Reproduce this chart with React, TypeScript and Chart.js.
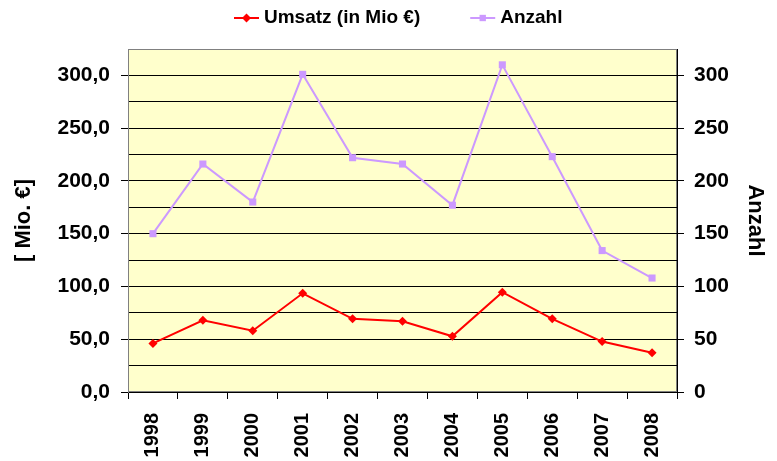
import React, { useEffect, useRef } from 'react';
import { Chart, registerables } from 'chart.js';

Chart.register(...registerables);

const categories = ['1998', '1999', '2000', '2001', '2002', '2003', '2004', '2005', '2006', '2007', '2008'];
const umsatz = [46, 68, 58, 93.5, 69.3, 67.1, 52.8, 94.6, 69.3, 47.8, 37.1];
const anzahl = [150, 216, 180, 301, 222, 216, 177, 310, 223, 134, 108];
const labelledTicks = [0, 50, 100, 150, 200, 250, 300];
const axisMax = 325;
const gridStep = 25;

const seriesNames = ['Umsatz (in Mio €)', 'Anzahl'];
const leftTitle = '[ Mio. €]';
const rightTitle = 'Anzahl';

const FONT = '"Liberation Sans", Arial, Helvetica, sans-serif';
const RED = '#FF0000';
const LAVENDER = '#CC99FF';

const plotBg = {
  id: 'plotBg',
  beforeDraw(chart: any) {
    const { ctx, chartArea } = chart;
    const { left, top, right, bottom } = chartArea;
    ctx.save();
    ctx.fillStyle = '#FFFFCC';
    ctx.fillRect(left, top, right - left, bottom - top);
    ctx.strokeStyle = '#808080';
    ctx.lineWidth = 1;
    ctx.strokeRect(left + 0.5, top + 0.5, right - left - 1, bottom - top - 1);
    ctx.restore();
  },
};

function drawMarker(ctx: CanvasRenderingContext2D, style: string, x: number, y: number, r: number, color: string) {
  ctx.fillStyle = color;
  ctx.beginPath();
  if (style === 'rectRot') {
    ctx.moveTo(x, y - r);
    ctx.lineTo(x + r, y);
    ctx.lineTo(x, y + r);
    ctx.lineTo(x - r, y);
    ctx.closePath();
  } else {
    const s = r * Math.SQRT1_2;
    ctx.rect(x - s, y - s, 2 * s, 2 * s);
  }
  ctx.fill();
}

const customLegend = {
  id: 'customLegend',
  afterDraw(chart: any) {
    const { ctx } = chart;
    const datasets = chart.data.datasets;
    ctx.save();
    ctx.font = `bold 19px ${FONT}`;
    ctx.textBaseline = 'middle';
    ctx.textAlign = 'left';
    let x = 234;
    const y = 18;
    datasets.forEach((ds: any) => {
      ctx.strokeStyle = ds.borderColor;
      ctx.lineWidth = 2;
      ctx.beginPath();
      ctx.moveTo(x, y);
      ctx.lineTo(x + 25, y);
      ctx.stroke();
      drawMarker(ctx, ds.pointStyle, x + 12.5, y, 4.5, ds.borderColor);
      ctx.fillStyle = '#000';
      ctx.fillText(ds.label, x + 30, y);
      x += 30 + ctx.measureText(ds.label).width + 50;
    });
    ctx.restore();
  },
};

export default function App() {
  const ref = useRef<HTMLCanvasElement | null>(null);

  useEffect(() => {
    if (!ref.current) return;
    const tickColorFn = (c: any) =>
      c.tick && labelledTicks.includes(c.tick.value) ? '#000' : 'rgba(0,0,0,0)';
    const chart = new Chart(ref.current, {
      type: 'line',
      data: {
        labels: categories,
        datasets: [
          {
            label: seriesNames[0],
            data: umsatz,
            yAxisID: 'y',
            borderColor: RED,
            backgroundColor: RED,
            borderWidth: 2,
            pointStyle: 'rectRot',
            pointRadius: 4.5,
            pointBorderWidth: 0,
            pointBackgroundColor: RED,
            tension: 0,
          },
          {
            label: seriesNames[1],
            data: anzahl,
            yAxisID: 'y1',
            borderColor: LAVENDER,
            backgroundColor: LAVENDER,
            borderWidth: 2,
            pointStyle: 'rect',
            pointRadius: 5,
            pointBorderWidth: 0,
            pointBackgroundColor: LAVENDER,
            tension: 0,
          },
        ],
      },
      options: {
        responsive: false,
        animation: false,
        devicePixelRatio: 1,
        layout: { padding: { top: 49, left: 0, right: 0, bottom: 0 } },
        plugins: {
          legend: { display: false },
          tooltip: { enabled: false },
        },
        scales: {
          x: {
            type: 'category',
            offset: true,
            grid: {
              offset: true,
              drawOnChartArea: false,
              drawTicks: true,
              tickLength: 7,
              tickColor: '#000',
            },
            border: { color: '#000', width: 1 },
            ticks: {
              minRotation: 90,
              maxRotation: 90,
              autoSkip: false,
              padding: 14,
              color: '#000',
              font: { family: FONT, size: 20, weight: 'bold' },
            },
            afterFit(scale: any) {
              scale.height = 69;
            },
          },
          y: {
            type: 'linear',
            position: 'left',
            min: 0,
            max: axisMax,
            grid: {
              color: (c: any) => (c.tick && c.tick.value === axisMax ? 'rgba(0,0,0,0)' : '#000'),
              tickColor: tickColorFn,
              tickLength: 7,
              drawTicks: true,
            },
            border: { color: '#808080', width: 1 },
            ticks: {
              stepSize: gridStep,
              autoSkip: false,
              padding: 11,
              color: '#000',
              font: { family: FONT, size: 21, weight: 'bold' },
              callback: (v: any) =>
                labelledTicks.includes(Number(v)) ? Number(v).toFixed(1).replace('.', ',') : '',
            },
            title: {
              display: true,
              text: leftTitle,
              color: '#000',
              font: { family: FONT, size: 22, weight: 'bold' },
              padding: { top: 11, bottom: 0 },
            },
            afterFit(scale: any) {
              scale.width = 128;
            },
          },
          y1: {
            type: 'linear',
            position: 'right',
            min: 0,
            max: axisMax,
            grid: {
              drawOnChartArea: false,
              tickColor: tickColorFn,
              tickLength: 7,
              drawTicks: true,
            },
            border: { color: '#000', width: 1 },
            ticks: {
              stepSize: gridStep,
              autoSkip: false,
              padding: 10,
              color: '#000',
              font: { family: FONT, size: 21, weight: 'bold' },
              callback: (v: any) => (labelledTicks.includes(Number(v)) ? String(v) : ''),
            },
            title: {
              display: true,
              text: rightTitle,
              color: '#000',
              font: { family: FONT, size: 22, weight: 'bold' },
              padding: { top: 9, bottom: 0 },
            },
            afterFit(scale: any) {
              scale.width = 100;
            },
          },
        },
      } as any,
      plugins: [plotBg, customLegend],
    });
    return () => chart.destroy();
  }, []);

  return (
    <div style={{ position: 'fixed', left: 0, top: 0, width: 777, height: 461, background: '#fff' }}>
      <canvas ref={ref} width={777} height={461} />
    </div>
  );
}
